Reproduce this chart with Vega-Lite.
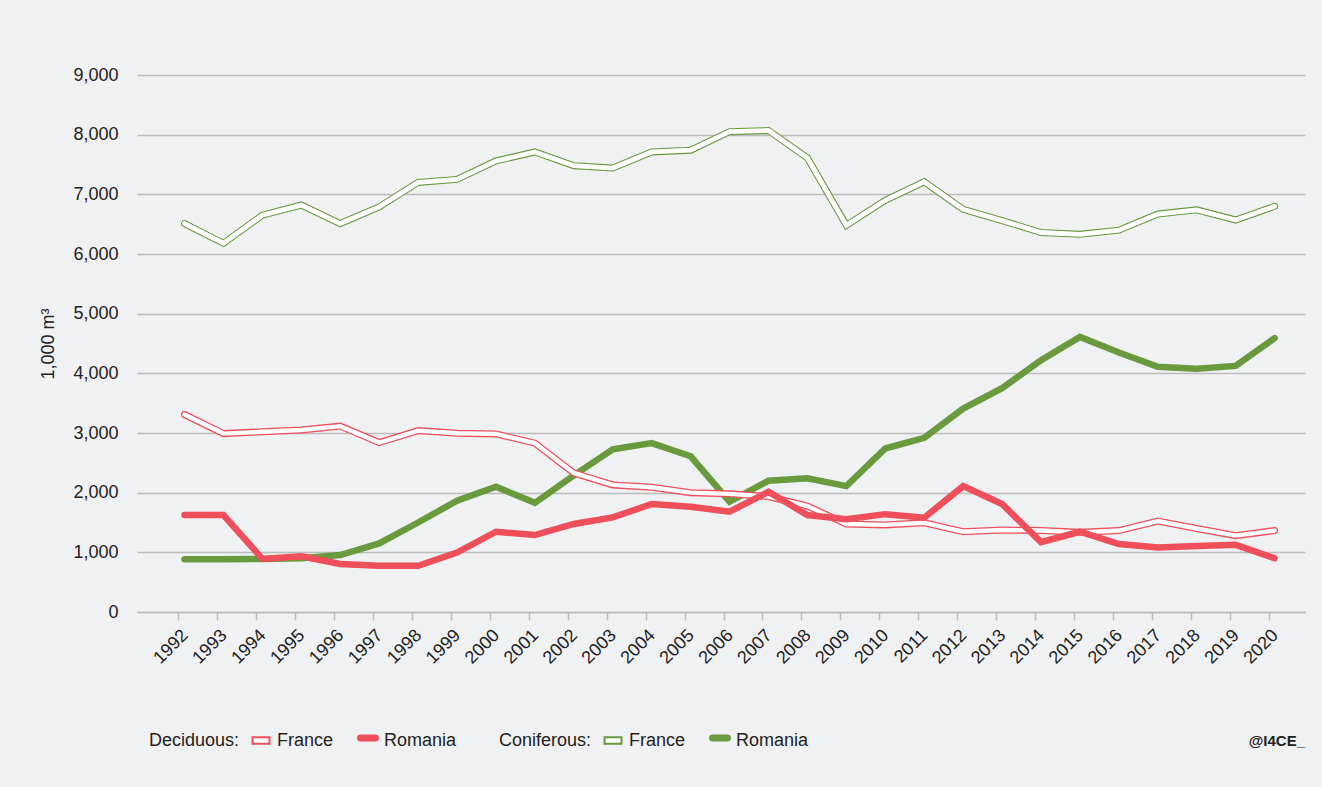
{
  "$schema": "https://vega.github.io/schema/vega-lite/v6.json",
  "width": 1168,
  "height": 537,
  "autosize": {"type": "none"},
  "padding": {"left": 137, "top": 75, "right": 17, "bottom": 175},
  "background": "#f0f1f3",
  "config": {
    "view": {"stroke": null},
    "font": "Liberation Sans",
    "axis": {"labelFont": "Liberation Sans", "labelFontSize": 18, "labelColor": "#222222", "titleFont": "Liberation Sans", "titleFontSize": 18, "titleFontWeight": "normal", "titleColor": "#222222"},
    "legend": {
      "orient": "none", "direction": "horizontal", "titleOrient": "left",
      "titleFont": "Liberation Sans", "titleFontSize": 18, "titleFontWeight": "normal", "titleColor": "#222222",
      "labelFont": "Liberation Sans", "labelFontSize": 18, "labelColor": "#222222",
      "symbolSize": 484, "labelOffset": 7, "columnPadding": 12, "titlePadding": 12, "legendY": 654
    }
  },
  "datasets": {
    "d": [
      {"year": 1992, "type": "Coniferous", "country": "France", "value": 6510},
      {"year": 1993, "type": "Coniferous", "country": "France", "value": 6180},
      {"year": 1994, "type": "Coniferous", "country": "France", "value": 6650},
      {"year": 1995, "type": "Coniferous", "country": "France", "value": 6820},
      {"year": 1996, "type": "Coniferous", "country": "France", "value": 6510},
      {"year": 1997, "type": "Coniferous", "country": "France", "value": 6790},
      {"year": 1998, "type": "Coniferous", "country": "France", "value": 7200},
      {"year": 1999, "type": "Coniferous", "country": "France", "value": 7250},
      {"year": 2000, "type": "Coniferous", "country": "France", "value": 7560},
      {"year": 2001, "type": "Coniferous", "country": "France", "value": 7710},
      {"year": 2002, "type": "Coniferous", "country": "France", "value": 7480},
      {"year": 2003, "type": "Coniferous", "country": "France", "value": 7440},
      {"year": 2004, "type": "Coniferous", "country": "France", "value": 7710},
      {"year": 2005, "type": "Coniferous", "country": "France", "value": 7740},
      {"year": 2006, "type": "Coniferous", "country": "France", "value": 8050},
      {"year": 2007, "type": "Coniferous", "country": "France", "value": 8070},
      {"year": 2008, "type": "Coniferous", "country": "France", "value": 7610},
      {"year": 2009, "type": "Coniferous", "country": "France", "value": 6480},
      {"year": 2010, "type": "Coniferous", "country": "France", "value": 6900},
      {"year": 2011, "type": "Coniferous", "country": "France", "value": 7210},
      {"year": 2012, "type": "Coniferous", "country": "France", "value": 6750},
      {"year": 2013, "type": "Coniferous", "country": "France", "value": 6560},
      {"year": 2014, "type": "Coniferous", "country": "France", "value": 6360},
      {"year": 2015, "type": "Coniferous", "country": "France", "value": 6330},
      {"year": 2016, "type": "Coniferous", "country": "France", "value": 6400},
      {"year": 2017, "type": "Coniferous", "country": "France", "value": 6670},
      {"year": 2018, "type": "Coniferous", "country": "France", "value": 6740},
      {"year": 2019, "type": "Coniferous", "country": "France", "value": 6570},
      {"year": 2020, "type": "Coniferous", "country": "France", "value": 6800},
      {"year": 1992, "type": "Coniferous", "country": "Romania", "value": 885},
      {"year": 1993, "type": "Coniferous", "country": "Romania", "value": 885},
      {"year": 1994, "type": "Coniferous", "country": "Romania", "value": 890},
      {"year": 1995, "type": "Coniferous", "country": "Romania", "value": 900},
      {"year": 1996, "type": "Coniferous", "country": "Romania", "value": 955},
      {"year": 1997, "type": "Coniferous", "country": "Romania", "value": 1150},
      {"year": 1998, "type": "Coniferous", "country": "Romania", "value": 1500},
      {"year": 1999, "type": "Coniferous", "country": "Romania", "value": 1865},
      {"year": 2000, "type": "Coniferous", "country": "Romania", "value": 2100},
      {"year": 2001, "type": "Coniferous", "country": "Romania", "value": 1830},
      {"year": 2002, "type": "Coniferous", "country": "Romania", "value": 2290},
      {"year": 2003, "type": "Coniferous", "country": "Romania", "value": 2725},
      {"year": 2004, "type": "Coniferous", "country": "Romania", "value": 2830},
      {"year": 2005, "type": "Coniferous", "country": "Romania", "value": 2610},
      {"year": 2006, "type": "Coniferous", "country": "Romania", "value": 1850},
      {"year": 2007, "type": "Coniferous", "country": "Romania", "value": 2200},
      {"year": 2008, "type": "Coniferous", "country": "Romania", "value": 2240},
      {"year": 2009, "type": "Coniferous", "country": "Romania", "value": 2110},
      {"year": 2010, "type": "Coniferous", "country": "Romania", "value": 2740},
      {"year": 2011, "type": "Coniferous", "country": "Romania", "value": 2920},
      {"year": 2012, "type": "Coniferous", "country": "Romania", "value": 3410},
      {"year": 2013, "type": "Coniferous", "country": "Romania", "value": 3750},
      {"year": 2014, "type": "Coniferous", "country": "Romania", "value": 4220},
      {"year": 2015, "type": "Coniferous", "country": "Romania", "value": 4610},
      {"year": 2016, "type": "Coniferous", "country": "Romania", "value": 4350},
      {"year": 2017, "type": "Coniferous", "country": "Romania", "value": 4110},
      {"year": 2018, "type": "Coniferous", "country": "Romania", "value": 4075},
      {"year": 2019, "type": "Coniferous", "country": "Romania", "value": 4125},
      {"year": 2020, "type": "Coniferous", "country": "Romania", "value": 4590},
      {"year": 1992, "type": "Deciduous", "country": "France", "value": 3310},
      {"year": 1993, "type": "Deciduous", "country": "France", "value": 2990},
      {"year": 1994, "type": "Deciduous", "country": "France", "value": 3020},
      {"year": 1995, "type": "Deciduous", "country": "France", "value": 3050},
      {"year": 1996, "type": "Deciduous", "country": "France", "value": 3115},
      {"year": 1997, "type": "Deciduous", "country": "France", "value": 2840},
      {"year": 1998, "type": "Deciduous", "country": "France", "value": 3040},
      {"year": 1999, "type": "Deciduous", "country": "France", "value": 2995},
      {"year": 2000, "type": "Deciduous", "country": "France", "value": 2985},
      {"year": 2001, "type": "Deciduous", "country": "France", "value": 2830},
      {"year": 2002, "type": "Deciduous", "country": "France", "value": 2330},
      {"year": 2003, "type": "Deciduous", "country": "France", "value": 2130},
      {"year": 2004, "type": "Deciduous", "country": "France", "value": 2090},
      {"year": 2005, "type": "Deciduous", "country": "France", "value": 2000},
      {"year": 2006, "type": "Deciduous", "country": "France", "value": 1980},
      {"year": 2007, "type": "Deciduous", "country": "France", "value": 1935},
      {"year": 2008, "type": "Deciduous", "country": "France", "value": 1775},
      {"year": 2009, "type": "Deciduous", "country": "France", "value": 1475},
      {"year": 2010, "type": "Deciduous", "country": "France", "value": 1460},
      {"year": 2011, "type": "Deciduous", "country": "France", "value": 1495},
      {"year": 2012, "type": "Deciduous", "country": "France", "value": 1345},
      {"year": 2013, "type": "Deciduous", "country": "France", "value": 1375},
      {"year": 2014, "type": "Deciduous", "country": "France", "value": 1365},
      {"year": 2015, "type": "Deciduous", "country": "France", "value": 1335},
      {"year": 2016, "type": "Deciduous", "country": "France", "value": 1365},
      {"year": 2017, "type": "Deciduous", "country": "France", "value": 1525},
      {"year": 2018, "type": "Deciduous", "country": "France", "value": 1400},
      {"year": 2019, "type": "Deciduous", "country": "France", "value": 1280},
      {"year": 2020, "type": "Deciduous", "country": "France", "value": 1365},
      {"year": 1992, "type": "Deciduous", "country": "Romania", "value": 1625},
      {"year": 1993, "type": "Deciduous", "country": "Romania", "value": 1625},
      {"year": 1994, "type": "Deciduous", "country": "Romania", "value": 890},
      {"year": 1995, "type": "Deciduous", "country": "Romania", "value": 935},
      {"year": 1996, "type": "Deciduous", "country": "Romania", "value": 805},
      {"year": 1997, "type": "Deciduous", "country": "Romania", "value": 775},
      {"year": 1998, "type": "Deciduous", "country": "Romania", "value": 775},
      {"year": 1999, "type": "Deciduous", "country": "Romania", "value": 995},
      {"year": 2000, "type": "Deciduous", "country": "Romania", "value": 1345},
      {"year": 2001, "type": "Deciduous", "country": "Romania", "value": 1290},
      {"year": 2002, "type": "Deciduous", "country": "Romania", "value": 1475},
      {"year": 2003, "type": "Deciduous", "country": "Romania", "value": 1585},
      {"year": 2004, "type": "Deciduous", "country": "Romania", "value": 1810},
      {"year": 2005, "type": "Deciduous", "country": "Romania", "value": 1765},
      {"year": 2006, "type": "Deciduous", "country": "Romania", "value": 1680},
      {"year": 2007, "type": "Deciduous", "country": "Romania", "value": 2015},
      {"year": 2008, "type": "Deciduous", "country": "Romania", "value": 1625},
      {"year": 2009, "type": "Deciduous", "country": "Romania", "value": 1555},
      {"year": 2010, "type": "Deciduous", "country": "Romania", "value": 1640},
      {"year": 2011, "type": "Deciduous", "country": "Romania", "value": 1580},
      {"year": 2012, "type": "Deciduous", "country": "Romania", "value": 2110},
      {"year": 2013, "type": "Deciduous", "country": "Romania", "value": 1810},
      {"year": 2014, "type": "Deciduous", "country": "Romania", "value": 1170},
      {"year": 2015, "type": "Deciduous", "country": "Romania", "value": 1345},
      {"year": 2016, "type": "Deciduous", "country": "Romania", "value": 1140},
      {"year": 2017, "type": "Deciduous", "country": "Romania", "value": 1080},
      {"year": 2018, "type": "Deciduous", "country": "Romania", "value": 1105},
      {"year": 2019, "type": "Deciduous", "country": "Romania", "value": 1125},
      {"year": 2020, "type": "Deciduous", "country": "Romania", "value": 900}
    ]
  },
  "data": {"name": "d"},
  "title": {"text": "@I4CE_", "orient": "bottom", "anchor": "end",
            "font": "Liberation Sans", "fontSize": 15, "fontWeight": "bold", "color": "#222222", "offset": -18},
  "encoding": {
    "x": {
      "field": "year", "type": "quantitative",
      "scale": {"domain": [1990.78, 2020.78], "nice": false, "zero": false},
      "axis": {"values": [1992,1993,1994,1995,1996,1997,1998,1999,2000,2001,2002,2003,2004,2005,2006,2007,2008,2009,2010,2011,2012,2013,2014,2015,2016,2017,2018,2019,2020],
               "format": "d", "labelAngle": -45, "labelFontSize": 18, "grid": false, "tickSize": 8, "tickColor": "#bdbdbd", "tickWidth": 1.5, "tickOffset": -6,
               "domainColor": "#bdbdbd", "domainWidth": 1.5, "labelPadding": 6, "title": null, "labelOverlap": false}
    },
    "y": {
      "field": "value", "type": "quantitative",
      "scale": {"domain": [0, 9000], "nice": false},
      "axis": {"values": [0,1000,2000,3000,4000,5000,6000,7000,8000,9000], "format": ",d", "labelFontSize": 18, "grid": true, "gridColor": "#bdbdbd", "gridWidth": 1.5,
               "ticks": false, "domain": false, "labelPadding": 19, "title": "1,000 m³", "titleFontSize": 18, "titlePadding": 15}
    }
  },
  "layer": [
    {
      "layer": [
        {
          "transform": [{"filter": "datum.type === 'Coniferous' && datum.country === 'France'"}],
          "mark": {"type": "line", "strokeWidth": 7, "strokeCap": "round"},
          "encoding": {"color": {"field": "country", "type": "nominal",
            "scale": {"domain": ["France", "Romania"], "range": ["#6a9a3e", "#6a9a3e"]},
            "legend": {"title": "Coniferous:", "legendX": 362,
              "encode": {
                "symbols": {"update": {
                  "shape": {"signal": "datum.value === 'France' ? 'M-0.77,-0.3H0.77V0.3H-0.77Z' : 'M-0.68,0H0.68'"},
                  "strokeWidth": {"signal": "datum.value === 'France' ? 2 : 7"},
                  "fill": {"signal": "datum.value === 'France' ? '#ffffff' : 'transparent'"},
                  "stroke": {"value": "#6a9a3e"},
                  "strokeCap": {"value": "round"}
                }},
                "labels": {"update": {"dy": {"signal": "datum.value === 'Romania' ? 3 : 0"}}}
              }}}}
        },
        {
          "transform": [{"filter": "datum.type === 'Coniferous' && datum.country === 'France'"}],
          "mark": {"type": "line", "strokeWidth": 4.8, "strokeCap": "round", "color": "#ffffff"},
          "encoding": {}
        },
        {
          "transform": [{"filter": "datum.type === 'Coniferous' && datum.country === 'Romania'"}],
          "mark": {"type": "line", "strokeWidth": 6.5, "strokeCap": "round"},
          "encoding": {"color": {"field": "country", "type": "nominal"}}
        }
      ]
    },
    {
      "layer": [
        {
          "transform": [{"filter": "datum.type === 'Deciduous' && datum.country === 'France'"}],
          "mark": {"type": "line", "strokeWidth": 7, "strokeCap": "round"},
          "encoding": {"color": {"field": "country", "type": "nominal",
            "scale": {"domain": ["France", "Romania"], "range": ["#ef4e5b", "#ef4e5b"]},
            "legend": {"title": "Deciduous:", "legendX": 12,
              "encode": {
                "symbols": {"update": {
                  "shape": {"signal": "datum.value === 'France' ? 'M-0.77,-0.3H0.77V0.3H-0.77Z' : 'M-0.68,0H0.68'"},
                  "strokeWidth": {"signal": "datum.value === 'France' ? 2 : 7"},
                  "fill": {"signal": "datum.value === 'France' ? '#ffffff' : 'transparent'"},
                  "stroke": {"value": "#ef4e5b"},
                  "strokeCap": {"value": "round"}
                }},
                "labels": {"update": {"dy": {"signal": "datum.value === 'Romania' ? 3 : 0"}}}
              }}}}
        },
        {
          "transform": [{"filter": "datum.type === 'Deciduous' && datum.country === 'France'"}],
          "mark": {"type": "line", "strokeWidth": 4.4, "strokeCap": "round", "color": "#ffffff"},
          "encoding": {}
        },
        {
          "transform": [{"filter": "datum.type === 'Deciduous' && datum.country === 'Romania'"}],
          "mark": {"type": "line", "strokeWidth": 6.5, "strokeCap": "round"},
          "encoding": {"color": {"field": "country", "type": "nominal"}}
        }
      ]
    }
  ],
  "resolve": {"scale": {"color": "independent"}}
}
